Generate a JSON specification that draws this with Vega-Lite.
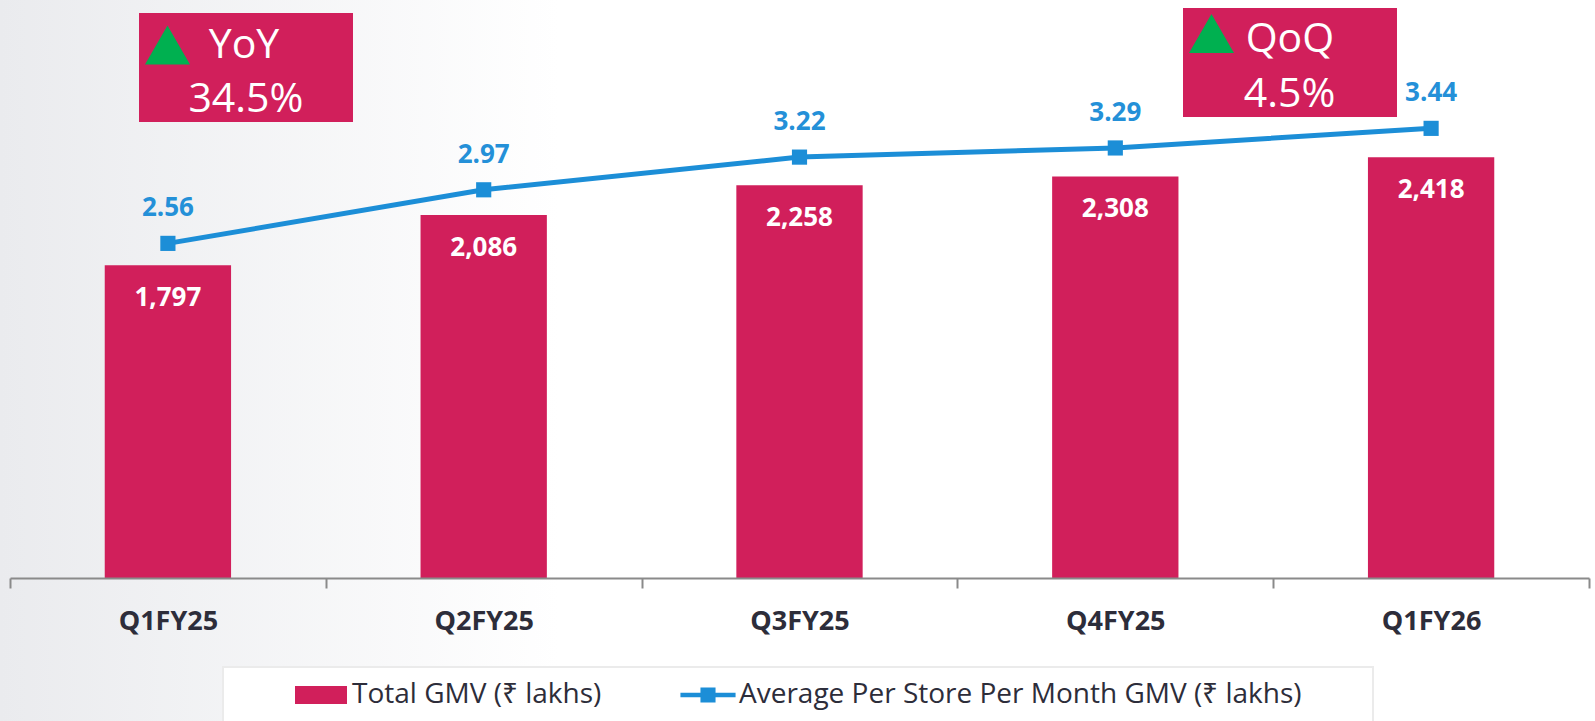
{
  "$schema": "https://vega.github.io/schema/vega-lite/v6.json",
  "width": 1579,
  "height": 578,
  "autosize": "none",
  "padding": {"left": 10, "top": 0, "right": 6, "bottom": 143},
  "background": "white",
  "config": {"view": {"stroke": null}, "font": "Open Sans"},
  "datasets": {
    "q": [
      {"quarter": "Q1FY25", "gmv": 1797, "avg": 2.56},
      {"quarter": "Q2FY25", "gmv": 2086, "avg": 2.97},
      {"quarter": "Q3FY25", "gmv": 2258, "avg": 3.22},
      {"quarter": "Q4FY25", "gmv": 2308, "avg": 3.29},
      {"quarter": "Q1FY26", "gmv": 2418, "avg": 3.44}
    ],
    "ann": [
      {"label": "YoY", "pct": "34.5%"},
      {"label": "QoQ", "pct": "4.5%"}
    ]
  },
  "resolve": {"scale": {"x": "independent", "y": "independent"}},
  "layer": [
    {
      "data": {"values": [{}]},
      "mark": {"type": "rect", "color": {"gradient": "linear", "x1": 0, "x2": 1, "y1": 0, "y2": 0, "stops": [{"offset": 0, "color": "#eaebee"}, {"offset": 1, "color": "#ffffff"}]}},
      "encoding": {
        "x": {"datum": -0.032, "type": "quantitative", "scale": {"domain": [0, 5], "nice": false, "zero": false}, "axis": null},
        "x2": {"datum": 1.74},
        "y": {"datum": 3400, "type": "quantitative", "scale": {"domain": [0, 3322], "nice": false}, "axis": null},
        "y2": {"datum": -830}
      }
    },
    {
      "data": {"values": [{}]},
      "mark": {"type": "rect", "fill": "#ffffff", "stroke": "#ebebeb", "strokeWidth": 2},
      "encoding": {
        "x": {"datum": 0.6745, "type": "quantitative", "scale": {"domain": [0, 5], "nice": false, "zero": false}, "axis": null},
        "x2": {"datum": 4.316},
        "y": {"datum": -511, "type": "quantitative", "scale": {"domain": [0, 3322], "nice": false}, "axis": null},
        "y2": {"datum": -900}
      }
    },
    {
      "data": {"name": "q"},
      "mark": {"type": "bar", "width": {"band": 0.4}},
      "encoding": {
        "x": {
          "field": "quarter", "type": "nominal", "sort": null,
          "scale": {"paddingInner": 0, "paddingOuter": 0},
          "axis": {
            "title": null, "labelAngle": 0, "labelFont": "Open Sans", "labelFontSize": 27, "labelFontWeight": "bold",
            "labelColor": "#2d2d3a", "labelPadding": 20, "domainColor": "#8a8a8a", "domainWidth": 2,
            "tickColor": "#8a8a8a", "tickWidth": 2, "tickSize": 10, "tickBand": "extent", "grid": false, "zindex": 1
          }
        },
        "y": {"field": "gmv", "type": "quantitative", "scale": {"domain": [0, 3322], "nice": false}, "axis": null},
        "color": {
          "datum": "Total GMV (₹ lakhs)",
          "scale": {"domain": ["Total GMV (₹ lakhs)", "Average Per Store Per Month GMV (₹ lakhs)"], "range": ["#d11f5b", "#1c8ed7"]},
          "legend": {
            "orient": "none", "legendX": 285, "legendY": 669, "direction": "horizontal", "title": null,
            "labelFont": "Open Sans", "labelFontSize": 28, "labelColor": "#2d2d3a", "labelLimit": 1000,
            "labelOffset": 5, "columnPadding": 78, "padding": 0, "symbolSize": 2704, "zindex": 2,
            "encode": {
              "symbols": {
                "update": {
                  "shape": {"signal": "indexof(datum.value, 'Total') === 0 ? 'M-1,-0.35H1V0.35H-1Z' : 'M-1.06,-0.09H1.06V0.09H-1.06Z M-0.29,-0.29H0.29V0.29H-0.29Z'"},
                  "fill": {"scale": "color", "field": "value"},
                  "stroke": {"value": "transparent"},
                  "strokeWidth": {"value": 0},
                  "opacity": {"value": 1}
                }
              }
            }
          }
        }
      }
    },
    {
      "data": {"name": "q"},
      "mark": {"type": "text", "font": "Open Sans", "fontSize": 26, "fontWeight": "bold", "color": "#ffffff", "baseline": "alphabetic", "dy": 41},
      "encoding": {
        "x": {"field": "quarter", "type": "nominal", "sort": null, "scale": {"paddingInner": 0, "paddingOuter": 0}, "axis": null},
        "y": {"field": "gmv", "type": "quantitative", "scale": {"domain": [0, 3322], "nice": false}, "axis": null},
        "text": {"field": "gmv", "type": "quantitative", "format": ","}
      }
    },
    {
      "data": {"name": "q"},
      "mark": {"type": "line", "strokeWidth": 5, "point": {"shape": "square", "size": 230, "filled": true, "opacity": 1}},
      "encoding": {
        "x": {"field": "quarter", "type": "nominal", "sort": null, "scale": {"paddingInner": 0, "paddingOuter": 0}, "axis": null},
        "y": {"field": "avg", "type": "quantitative", "scale": {"domain": [0, 4.422], "nice": false}, "axis": null},
        "color": {"datum": "Average Per Store Per Month GMV (₹ lakhs)"}
      }
    },
    {
      "data": {"name": "q"},
      "mark": {"type": "text", "font": "Open Sans", "fontSize": 26, "fontWeight": "bold", "color": "#2490d8", "baseline": "alphabetic", "dy": -27},
      "encoding": {
        "x": {"field": "quarter", "type": "nominal", "sort": null, "scale": {"paddingInner": 0, "paddingOuter": 0}, "axis": null},
        "y": {"field": "avg", "type": "quantitative", "scale": {"domain": [0, 4.422], "nice": false}, "axis": null},
        "text": {"field": "avg", "type": "quantitative", "format": ".2f"}
      }
    },
    {
      "data": {"name": "ann"},
      "transform": [{"filter": "datum.label === 'YoY'"}],
      "mark": {"type": "rect", "color": "#d11f5b"},
      "encoding": {
        "x": {"datum": 0.4085, "type": "quantitative", "scale": {"domain": [0, 5], "nice": false, "zero": false}, "axis": null},
        "x2": {"datum": 1.0861},
        "y": {"datum": 3247, "type": "quantitative", "scale": {"domain": [0, 3322], "nice": false}, "axis": null},
        "y2": {"datum": 2621}
      }
    },
    {
      "data": {"name": "ann"},
      "transform": [{"filter": "datum.label === 'YoY'"}],
      "mark": {"type": "point", "shape": "triangle-up", "size": 2025, "filled": true, "color": "#00b050", "opacity": 1},
      "encoding": {
        "x": {"datum": 0.4987, "type": "quantitative", "scale": {"domain": [0, 5], "nice": false, "zero": false}, "axis": null},
        "y": {"datum": 3063, "type": "quantitative", "scale": {"domain": [0, 3322], "nice": false}, "axis": null}
      }
    },
    {
      "data": {"name": "ann"},
      "transform": [{"filter": "datum.label === 'YoY'"}],
      "mark": {"type": "text", "font": "Open Sans", "fontSize": 41, "color": "#ffffff", "baseline": "alphabetic", "align": "center"},
      "encoding": {
        "x": {"datum": 0.741, "type": "quantitative", "scale": {"domain": [0, 5], "nice": false, "zero": false}, "axis": null},
        "y": {"datum": 2986, "type": "quantitative", "scale": {"domain": [0, 3322], "nice": false}, "axis": null},
        "text": {"field": "label"}
      }
    },
    {
      "data": {"name": "ann"},
      "transform": [{"filter": "datum.label === 'YoY'"}],
      "mark": {"type": "text", "font": "Open Sans", "fontSize": 41, "color": "#ffffff", "baseline": "alphabetic", "align": "center"},
      "encoding": {
        "x": {"datum": 0.747, "type": "quantitative", "scale": {"domain": [0, 5], "nice": false, "zero": false}, "axis": null},
        "y": {"datum": 2678, "type": "quantitative", "scale": {"domain": [0, 3322], "nice": false}, "axis": null},
        "text": {"field": "pct"}
      }
    },
    {
      "data": {"name": "ann"},
      "transform": [{"filter": "datum.label === 'QoQ'"}],
      "mark": {"type": "rect", "color": "#d11f5b"},
      "encoding": {
        "x": {"datum": 3.7144, "type": "quantitative", "scale": {"domain": [0, 5], "nice": false, "zero": false}, "axis": null},
        "x2": {"datum": 4.392},
        "y": {"datum": 3276, "type": "quantitative", "scale": {"domain": [0, 3322], "nice": false}, "axis": null},
        "y2": {"datum": 2649}
      }
    },
    {
      "data": {"name": "ann"},
      "transform": [{"filter": "datum.label === 'QoQ'"}],
      "mark": {"type": "point", "shape": "triangle-up", "size": 2025, "filled": true, "color": "#00b050", "opacity": 1},
      "encoding": {
        "x": {"datum": 3.8046, "type": "quantitative", "scale": {"domain": [0, 5], "nice": false, "zero": false}, "axis": null},
        "y": {"datum": 3129, "type": "quantitative", "scale": {"domain": [0, 3322], "nice": false}, "axis": null}
      }
    },
    {
      "data": {"name": "ann"},
      "transform": [{"filter": "datum.label === 'QoQ'"}],
      "mark": {"type": "text", "font": "Open Sans", "fontSize": 41, "color": "#ffffff", "baseline": "alphabetic", "align": "center"},
      "encoding": {
        "x": {"datum": 4.053, "type": "quantitative", "scale": {"domain": [0, 5], "nice": false, "zero": false}, "axis": null},
        "y": {"datum": 3023, "type": "quantitative", "scale": {"domain": [0, 3322], "nice": false}, "axis": null},
        "text": {"field": "label"}
      }
    },
    {
      "data": {"name": "ann"},
      "transform": [{"filter": "datum.label === 'QoQ'"}],
      "mark": {"type": "text", "font": "Open Sans", "fontSize": 41, "color": "#ffffff", "baseline": "alphabetic", "align": "center"},
      "encoding": {
        "x": {"datum": 4.052, "type": "quantitative", "scale": {"domain": [0, 5], "nice": false, "zero": false}, "axis": null},
        "y": {"datum": 2707, "type": "quantitative", "scale": {"domain": [0, 3322], "nice": false}, "axis": null},
        "text": {"field": "pct"}
      }
    }
  ]
}
